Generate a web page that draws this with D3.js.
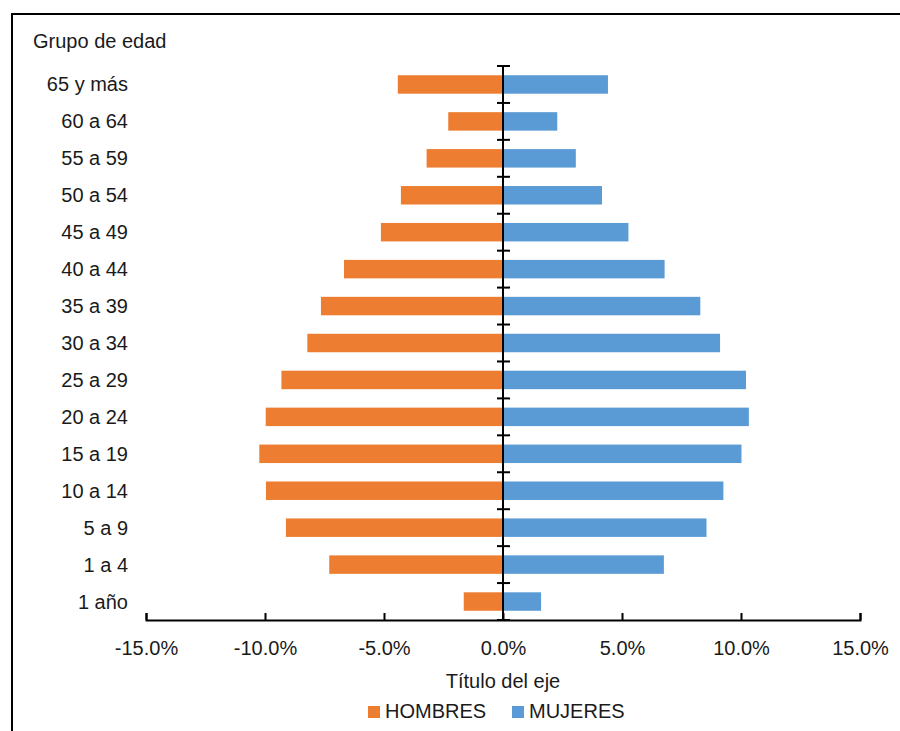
<!DOCTYPE html>
<html>
<head>
<meta charset="utf-8">
<script src="https://cdn.jsdelivr.net/npm/d3@7"></script>
<style>
  body { margin: 0; background: #fff; }
  svg text { font-family: "Liberation Sans", Arial, sans-serif; fill: #1a1a1a; }
</style>
</head>
<body>
<div id="chart"></div>
<script>
// age groups, top to bottom
let groups = ["65 y más", "60 a 64", "55 a 59", "50 a 54", "45 a 49", "40 a 44", "35 a 39",
    "30 a 34", "25 a 29", "20 a 24", "15 a 19", "10 a 14", "5 a 9", "1 a 4", "1 año"];
// percentages
let hombres = [4.42, 2.30, 3.21, 4.29, 5.13, 6.68, 7.65, 8.22, 9.31, 9.97, 10.24, 9.96, 9.12, 7.30, 1.65];
let mujeres = [4.41, 2.28, 3.06, 4.16, 5.27, 6.79, 8.29, 9.12, 10.21, 10.33, 10.02, 9.26, 8.55, 6.76, 1.60];
let xTicks = [-15, -10, -5, 0, 5, 10, 15];

let width = 900, height = 731;
let svg = d3.select("#chart").append("svg")
    .attr("width", width)
    .attr("height", height);

// outer frame (runs off the right and bottom)
svg.append("rect")
    .attr("x", 12).attr("y", 14)
    .attr("width", 1000).attr("height", 1000)
    .attr("fill", "none")
    .attr("stroke", "#000")
    .attr("stroke-width", 2);

let x = d3.scaleLinear().domain([-15, 15]).range([146, 860]);
let y = d3.scaleBand().domain(groups).range([66, 620]).paddingInner(0.5).paddingOuter(0.25);

// bars
svg.append("g").selectAll("rect")
    .data(groups)
    .enter().append("rect")
    .attr("x", (d, i) => x(-hombres[i]))
    .attr("y", d => y(d))
    .attr("width", (d, i) => x(0) - x(-hombres[i]))
    .attr("height", y.bandwidth())
    .attr("fill", "#ED7D31");

svg.append("g").selectAll("rect")
    .data(groups)
    .enter().append("rect")
    .attr("x", x(0))
    .attr("y", d => y(d))
    .attr("width", (d, i) => x(mujeres[i]) - x(0))
    .attr("height", y.bandwidth())
    .attr("fill", "#5B9BD5");

// x axis, ticks pointing up
let xAxis = svg.append("g")
    .attr("transform", "translate(0,620)")
    .call(d3.axisBottom(x).tickValues(xTicks).tickSizeInner(-7).tickSizeOuter(-7)
        .tickFormat(d => d.toFixed(1) + "%"));
xAxis.select(".domain").attr("stroke", "#000").attr("stroke-width", 2);
xAxis.selectAll(".tick line").attr("stroke", "#000").attr("stroke-width", 2);
xAxis.selectAll(".tick text")
    .attr("y", 35)
    .attr("dy", 0)
    .attr("fill", "#1a1a1a")
    .style("font-size", "20px")
    .style("font-family", "'Liberation Sans', Arial, sans-serif");

// central category axis
let step = y.step();
let bounds = d3.range(groups.length + 1).map(i => 66 + i * step);
svg.append("line")
    .attr("x1", x(0)).attr("x2", x(0))
    .attr("y1", 66).attr("y2", 620)
    .attr("stroke", "#000").attr("stroke-width", 2);
svg.append("g").selectAll("line")
    .data(bounds)
    .enter().append("line")
    .attr("x1", x(0) - 6).attr("x2", x(0) + 7)
    .attr("y1", d => d).attr("y2", d => d)
    .attr("stroke", "#000").attr("stroke-width", 2);

// category labels
svg.append("g").selectAll("text")
    .data(groups)
    .enter().append("text")
    .attr("x", 128)
    .attr("y", d => y(d) + y.bandwidth() / 2)
    .attr("dy", "0.35em")
    .attr("text-anchor", "end")
    .style("font-size", "20px")
    .text(d => d);

svg.append("text")
    .attr("x", 33).attr("y", 48)
    .style("font-size", "20px")
    .text("Grupo de edad");

svg.append("text")
    .attr("x", x(0)).attr("y", 688)
    .attr("text-anchor", "middle")
    .style("font-size", "20px")
    .text("Título del eje");

// legend
let legend = [["HOMBRES", "#ED7D31", 368], ["MUJERES", "#5B9BD5", 512]];
let lg = svg.append("g").selectAll("g")
    .data(legend)
    .enter().append("g");
lg.append("rect")
    .attr("x", d => d[2]).attr("y", 706)
    .attr("width", 12).attr("height", 12)
    .attr("fill", d => d[1]);
lg.append("text")
    .attr("x", d => d[2] + 17).attr("y", 718)
    .style("font-size", "20px")
    .text(d => d[0]);
</script>
</body>
</html>
